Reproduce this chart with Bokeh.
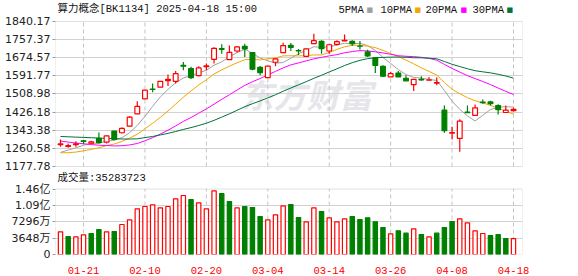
import numpy as np
from bokeh.plotting import figure
from bokeh.models import Range1d, FixedTicker, Grid, BoxAnnotation, Label, ColumnDataSource
from bokeh.embed import file_html
from bokeh.resources import INLINE

# ---------------- data ----------------
dates = ["01-16", "01-17", "01-20", "01-21", "01-22", "01-23", "01-24", "01-27",
         "02-05", "02-06", "02-07", "02-10", "02-11", "02-12", "02-13", "02-14",
         "02-17", "02-18", "02-19", "02-20", "02-21", "02-24", "02-25", "02-26",
         "02-27", "02-28", "03-03", "03-04", "03-05", "03-06", "03-07", "03-10",
         "03-11", "03-12", "03-13", "03-14", "03-17", "03-18", "03-19", "03-20",
         "03-21", "03-24", "03-25", "03-26", "03-27", "03-28", "03-31", "04-01",
         "04-02", "04-03", "04-07", "04-08", "04-09", "04-10", "04-11", "04-14",
         "04-15", "04-16", "04-17", "04-18"]

opens = [1278, 1270, 1278, 1295, 1284, 1306, 1289, 1339.5, 1332, 1362,
         1418.5, 1486.8, 1531, 1540, 1570, 1567, 1640, 1625, 1593, 1634,
         1667.6, 1716, 1666, 1705.5, 1726.8, 1698, 1631, 1584, 1654, 1698,
         1731, 1707, 1681, 1739, 1749.6, 1705.5, 1736, 1752, 1749.6, 1728,
         1701, 1675, 1635.7, 1587, 1605, 1581, 1552, 1576, 1572, 1559,
         1435, 1330, 1306, 1426, 1411, 1472, 1473, 1456, 1424.5, 1433]
highs = [1301, 1283, 1293, 1300, 1295, 1333, 1318, 1340, 1356, 1409,
         1476, 1527, 1557, 1567, 1598, 1614, 1655, 1634, 1636, 1648,
         1723, 1736, 1731, 1727, 1739, 1701, 1637, 1636, 1674, 1743.5,
         1742, 1714, 1717, 1784.6, 1754, 1739, 1754, 1781, 1754, 1751,
         1711, 1678, 1640, 1610, 1614, 1595, 1576, 1590, 1587, 1584,
         1456, 1359, 1394, 1456, 1461, 1484, 1478, 1462, 1456, 1446]
lows = [1268, 1263, 1268, 1281, 1280, 1283, 1283, 1298, 1329, 1359,
        1418, 1486, 1517, 1540, 1546, 1557, 1617, 1578, 1590, 1617,
        1648, 1693, 1666, 1699, 1678, 1617, 1595, 1584, 1636, 1698,
        1705, 1687, 1681, 1739, 1693, 1693, 1731, 1751, 1728, 1712,
        1678, 1605, 1587, 1587, 1587, 1569, 1523, 1569, 1569, 1549,
        1332, 1301.5, 1245, 1423, 1411, 1465, 1457, 1415, 1424.5, 1429]
closes = [1281, 1273, 1281, 1292, 1290, 1286.5, 1318, 1301.5, 1351.6, 1403,
          1452, 1526.3, 1529.5, 1567, 1576, 1602, 1636, 1584, 1628, 1637,
          1717.7, 1713, 1699.5, 1723.8, 1714.7, 1622, 1607, 1636, 1669, 1730,
          1722, 1705.5, 1714.7, 1752.6, 1716, 1734, 1748, 1754, 1739, 1727,
          1683, 1640, 1590, 1602, 1587, 1569, 1576, 1573, 1574, 1561,
          1341, 1333, 1385, 1424, 1446, 1470, 1465, 1438, 1435, 1439]
volumes = [50500000, 40100000, 39400000, 43800000, 46800000, 55700000, 50500000, 51200000,
           66800000, 77200000, 101700000, 106900000, 110600000, 104000000, 106900000, 124000000,
           131400000, 122500000, 115100000, 101700000, 141800000, 135900000, 118100000, 104000000,
           106900000, 104700000, 84700000, 77200000, 88400000, 108400000, 111400000, 82400000,
           72800000, 104000000, 95800000, 81700000, 72800000, 79500000, 84700000, 78000000,
           81700000, 72800000, 60200000, 46000000, 52700000, 47500000, 57200000, 44600000,
           39400000, 47500000, 60200000, 73500000, 79500000, 70500000, 52700000, 46800000,
           42300000, 44600000, 35600000, 35283723]
# closes of the 29 sessions before the first one shown (feed the moving averages)
pre_closes = [1320, 1325, 1330, 1335, 1340, 1345, 1350, 1395, 1410, 1420,
              1365, 1372, 1360, 1358, 1350, 1345, 1338, 1335, 1330, 1320,
              1275, 1250, 1235, 1225, 1212, 1220, 1228, 1235, 1247]

x_tick_labels = ["01-21", "02-10", "02-20", "03-04", "03-14", "03-26", "04-08", "04-18"]
price_ticks = [1177.78, 1260.58, 1343.38, 1426.18, 1508.98, 1591.77, 1674.57, 1757.37, 1840.17]
vol_ticks = [0, 36480000, 72960000, 109440000, 145920000]
vol_tick_labels = ["0", "3648万", "7296万", "1.09亿", "1.46亿"]
ma_periods = [5, 10, 20, 30]
ma_names = ["5PMA", "10PMA", "20PMA", "30PMA"]

# ---------------- layout constants ----------------
W, H = 578, 276
FL, FR, FT, FB = 55, 522, 0, 254        # drawing frame (top at 0 so header texts are inside)
PRICE_TOP_PX, PRICE_BOTTOM_PX = 21, 166
VOL_TOP_PX = 188.5
FIRST_PX, LAST_PX = 60, 513

RED = "#ff0000"
GREEN = "#008000"
MA_COLORS = ["#a0a0a0", "#f2a500", "#ff00ff", "#00723a"]
GRID = "#d2d2d2"
BORDER = "#9a9a9a"

n = len(closes)
idx = np.arange(n)
per_px = (n - 1) / (LAST_PX - FIRST_PX)
x_lo = 0 - (FIRST_PX - FL) * per_px
x_hi = (n - 1) + (FR - LAST_PX) * per_px

p_bot, p_top = price_ticks[0], price_ticks[-1]
ppx = (p_top - p_bot) / (PRICE_BOTTOM_PX - PRICE_TOP_PX)
y_hi = p_top + (PRICE_TOP_PX - FT) * ppx
y_lo = p_bot - (FB - PRICE_BOTTOM_PX) * ppx
vpx = vol_ticks[-1] / (FB - VOL_TOP_PX)
v_hi = vpx * (FB - FT)


def px2x(px):
    return x_lo + (px - FL) / (FR - FL) * (x_hi - x_lo)


def py2y(py):
    return y_hi - (py - FT) / (FB - FT) * (y_hi - y_lo)


p = figure(width=W, height=H, x_range=Range1d(x_lo, x_hi), y_range=Range1d(y_lo, y_hi),
           output_backend="svg", toolbar_location=None,
           min_border_left=FL, min_border_right=W - FR,
           min_border_top=FT, min_border_bottom=H - FB)
p.extra_y_ranges = {"vol": Range1d(0, v_hi)}
p.outline_line_color = None
p.background_fill_color = "white"
p.border_fill_color = "white"
p.grid.visible = False

# ---- axes ----
def vol_to_price(v):
    return y_lo + v / v_hi * (y_hi - y_lo)

vol_tick_pos = [vol_to_price(v) for v in vol_ticks]
overrides = {t: "%.2f" % t for t in price_ticks}
for t, lab in zip(vol_tick_pos, vol_tick_labels):
    overrides[t] = lab
yax = p.yaxis[0]
yax.ticker = FixedTicker(ticks=price_ticks + vol_tick_pos)
yax.major_label_overrides = overrides
yax.axis_line_color = None
yax.major_tick_line_color = BORDER
yax.major_tick_out = 3
yax.major_tick_in = 0
yax.minor_tick_line_color = None
yax.major_label_standoff = 2
yax.major_label_text_font = "DejaVu Sans, Noto Sans CJK SC"
yax.major_label_text_font_size = "11px"
yax.major_label_text_color = "#222222"

x_tick_pos = [dates.index(d) for d in x_tick_labels]
xax = p.xaxis[0]
xax.ticker = FixedTicker(ticks=x_tick_pos)
xax.major_label_overrides = {t: lab for t, lab in zip(x_tick_pos, x_tick_labels)}
xax.axis_line_color = None
xax.major_tick_line_color = None
xax.minor_tick_line_color = None
xax.major_label_standoff = 6
xax.major_label_text_font = "Liberation Mono"
xax.major_label_text_font_size = "10.5px"
xax.major_label_text_color = RED

# ---- watermark ----
p.add_layout(Label(x=px2x(240), y=py2y(93), text="东方财富", text_align="left", text_baseline="middle",
                   text_font="Noto Sans CJK SC", text_font_size="33px", text_font_style="bold italic",
                   text_color="#e6e6ea", level="underlay"))

# ---- grids ----
p.add_layout(Grid(dimension=1, ticker=FixedTicker(ticks=price_ticks[1:-1]),
                  grid_line_color=GRID, grid_line_width=1))
p.add_layout(Grid(dimension=1, y_range_name="vol", ticker=FixedTicker(ticks=vol_ticks[1:-1]),
                  grid_line_color=GRID, grid_line_width=1))
p.segment(x0=x_tick_pos, x1=x_tick_pos, y0=p_bot, y1=p_top,
          line_color="#c4c4c4", line_dash="4 3", line_width=1)
p.segment(x0=x_tick_pos, x1=x_tick_pos, y0=0, y1=vol_ticks[-1], y_range_name="vol",
          line_color="#c4c4c4", line_dash="4 3", line_width=1)

# ---- moving averages ----
all_c = np.array(pre_closes + closes, dtype=float)
off = len(pre_closes)
for per, col in zip(ma_periods, MA_COLORS):
    ma = [all_c[i + off - per + 1:i + off + 1].mean() for i in range(n)]
    p.line(idx, ma, line_color=col, line_width=1)

# ---- candles ----
o = np.array(opens); c = np.array(closes); hi = np.array(highs); lo = np.array(lows)
up = c >= o
cand_col = [RED if u else GREEN for u in up]
cand_fill = ["white" if u else GREEN for u in up]
csrc = ColumnDataSource(dict(x=idx, o=o, c=c, h=hi, l=lo,
                             top=np.maximum(o, c), bot=np.minimum(o, c),
                             col=cand_col, fill=cand_fill))
p.segment(x0="x", x1="x", y0="l", y1="h", line_color="col", line_width=1.2, source=csrc)
p.vbar(x="x", width=0.62, top="top", bottom="bot", fill_color="fill",
       line_color="col", line_width=1.2, source=csrc)

# ---- volume ----
prev_c = np.concatenate([[pre_closes[-1]], c[:-1]])
vup = c >= prev_c
vsrc = ColumnDataSource(dict(x=idx, v=volumes,
                             col=[RED if u else GREEN for u in vup],
                             fill=["white" if u else GREEN for u in vup]))
p.vbar(x="x", width=0.56, top="v", bottom=0, y_range_name="vol",
       fill_color="fill", line_color="col", line_width=1.2, source=vsrc)

# ---- borders ----
p.add_layout(BoxAnnotation(bottom=p_bot, top=p_top, fill_alpha=0, line_color=BORDER,
                           line_width=1, level="overlay"))
p.add_layout(BoxAnnotation(bottom=0, top=vol_ticks[-1], y_range_name="vol", fill_alpha=0,
                           line_color=BORDER, line_width=1, level="overlay"))

# ---- header texts ----
p.add_layout(Label(x=px2x(57), y=py2y(8.5), text="算力概念[BK1134] 2025-04-18 15:00",
                   text_align="left", text_baseline="middle",
                   text_font="Liberation Mono, Noto Sans CJK SC", text_font_size="10.5px",
                   text_color="#111111"))
leg_text_px = [338, 380, 425, 472]
leg_box_px = [366, 414, 460, 506]
for name, col, tx, bx in zip(ma_names, MA_COLORS, leg_text_px, leg_box_px):
    p.add_layout(Label(x=px2x(tx), y=py2y(9), text=name, text_align="left", text_baseline="middle",
                       text_font="Liberation Mono", text_font_size="10.5px", text_color="#111111"))
    p.add_layout(Label(x=px2x(bx), y=py2y(9), text="■", text_align="left", text_baseline="middle",
                       text_font="DejaVu Sans", text_font_size="7px", text_color=col))
p.add_layout(Label(x=px2x(57), y=py2y(177.5), text="成交量:%d" % volumes[-1],
                   text_align="left", text_baseline="middle",
                   text_font="Liberation Mono, Noto Sans CJK SC", text_font_size="10.5px",
                   text_color="#111111"))

open("out.html", "w").write(file_html(p, INLINE))
